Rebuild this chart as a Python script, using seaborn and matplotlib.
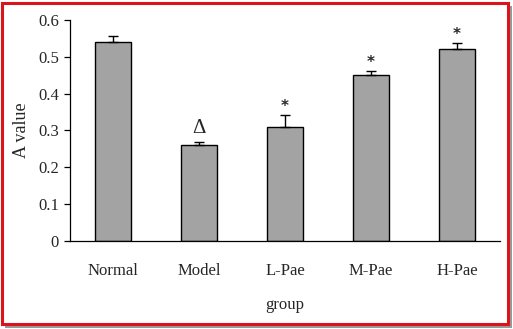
import matplotlib
matplotlib.use("Agg")
import matplotlib.pyplot as plt
import seaborn as sns
import pandas as pd
import numpy as np
from matplotlib.patches import Rectangle

groups = ["Normal", "Model", "L-Pae", "M-Pae", "H-Pae"]
values = [0.540, 0.259, 0.308, 0.451, 0.520]
errors = [0.016, 0.008, 0.033, 0.010, 0.017]
marks = ["", "\u0394", "*", "*", "*"]
yticks = [0, 0.1, 0.2, 0.3, 0.4, 0.5, 0.6]
ytick_labels = ["0", "0.1", "0.2", "0.3", "0.4", "0.5", "0.6"]

sns.set_style("white")
plt.rcParams["font.family"] = ["Liberation Serif", "DejaVu Serif"]

df = pd.DataFrame({"group": groups, "value": values})

fig = plt.figure(figsize=(5.13, 3.29), dpi=100)
ax = fig.add_axes([70/513, 1-240.7/329, (500-70)/513, (240.7-20)/329])

sns.barplot(data=df, x="group", y="value", color="#a3a3a3", edgecolor="black",
            linewidth=1.0, width=0.41, saturation=1, errorbar=None, ax=ax)
x = np.arange(len(groups))
ax.errorbar(x, values, yerr=[np.zeros(len(errors)), errors], fmt="none",
            ecolor="black", elinewidth=1.0, capsize=3.5, capthick=1.0)

for xi, v, e, m in zip(x, values, errors, marks):
    if m == "*":
        ax.text(xi, v + e + 0.024, m, ha="center", va="center", fontsize=11,
                family="DejaVu Sans", fontweight="bold")
    elif m:
        ax.text(xi, v + e + 0.037, m, ha="center", va="center", fontsize=15)

ax.set_xlim(-0.5, len(groups) - 0.5)
ax.set_ylim(0, 0.6)
ax.set_yticks(yticks)
ax.set_yticklabels(ytick_labels, fontsize=12)
ax.set_xticks(x)
ax.set_xticklabels(groups, fontsize=12)
ax.set_xticks(np.arange(0.5, len(groups), 1.0), minor=True)
ax.tick_params(axis="x", which="major", length=0, pad=16)
ax.tick_params(axis="x", which="minor", direction="in", length=4, width=0.9, color="black")
ax.tick_params(axis="y", which="major", direction="out", length=4, width=0.9, color="black", left=True, pad=4)
for s in ["top", "right"]:
    ax.spines[s].set_visible(False)
for s in ["left", "bottom"]:
    ax.spines[s].set_color("black")
    ax.spines[s].set_linewidth(0.9)

ax.set_xlabel("group", fontsize=12, labelpad=13)
ax.set_ylabel("A value", fontsize=13, labelpad=6)

# shadow + red frame
fig.patches.append(Rectangle((5/513, 1-328/329), 507/513, 322/329, transform=fig.transFigure,
                             facecolor="#9a9a9a", edgecolor="none", zorder=-2))
fig.patches.append(Rectangle((2/513, 1-324/329), 506/513, 321/329, transform=fig.transFigure,
                             facecolor="white", edgecolor="#d9141b", linewidth=2.2, zorder=-1))

fig.savefig("out.png", dpi=100)
